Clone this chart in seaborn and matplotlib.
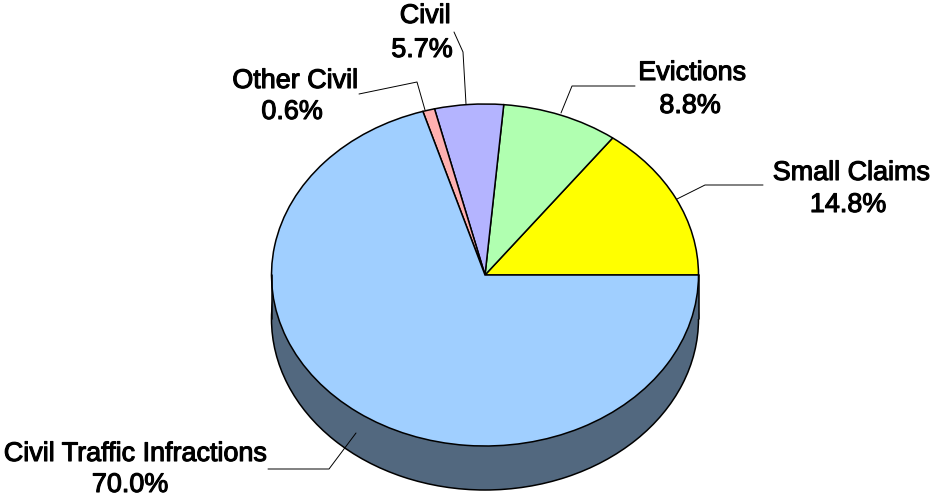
import matplotlib
matplotlib.use("Agg")
import matplotlib.pyplot as plt
from matplotlib.lines import Line2D
from matplotlib.transforms import Affine2D
import matplotlib.patheffects as pe
import seaborn as sns

categories = ["Small Claims", "Evictions", "Civil", "Other Civil", "Civil Traffic Infractions"]
# Percentages printed in the labels
values = [14.8, 8.8, 5.7, 0.6, 70.0]
# Slice shares as drawn in the picture (its Civil / Other Civil wedges differ a little from the printed figures)
drawn_shares = [14.8, 8.8, 5.2, 0.9, 70.3]
slice_colors = ["#FFFF00", "#B0FFB0", "#B4B4FF", "#FFB0B0", "#A0CFFF"]
side_color = "#52687F"

W, H = 930, 497
CX, CY, RX, RY, DEPTH = 485, 275, 213.5, 171, 44

sns.set_theme(style="white")
plt.rcParams["font.family"] = ["Liberation Sans", "DejaVu Sans"]

fig = plt.figure(figsize=(W / 100, H / 100), dpi=100, facecolor="white")
ax = fig.add_axes([0, 0, 1, 1])
palette = sns.color_palette(slice_colors)
edge = dict(edgecolor="black", linewidth=1.1)

# Side wall: lower ellipse plus the band joining it to the top face
d = DEPTH / RY
ax.pie([sum(values)], colors=[side_color], center=(0, -d), radius=1, wedgeprops=edge)
ax.fill_between([-1, 1], [-d, -d], [0, 0], color=side_color, linewidth=0)
ax.plot([-1, -1], [-d, 0], color="black", lw=1.1)
ax.plot([1, 1], [-d, 0], color="black", lw=1.1)
# Top face
ax.pie(drawn_shares, colors=palette, startangle=0, counterclock=True, center=(0, 0), radius=1,
       wedgeprops=edge)

ax.set_aspect("auto")
ax.set_xlim(-CX / RX, (W - CX) / RX)
ax.set_ylim(-(H - CY) / RY, CY / RY)
ax.axis("off")

# Pixel coordinate system (origin top-left) for labels and leader lines
px = Affine2D().scale(1 / W, -1 / H).translate(0, 1) + fig.transFigure

label_pos = [(851, 173), (692, 73), (425, 16), (295, 81), (135, 454)]
value_pos = [(848, 205), (690, 106), (422, 50), (292, 112), (130, 485)]
leaders = [
    [(763, 185), (705, 185), (677, 199)],
    [(635, 86), (572, 86), (561, 113)],
    [(454, 32), (463, 52), (466, 104)],
    [(359, 94), (417, 82), (425, 110)],
    [(268, 469), (329, 469), (356, 433)],
]
stroke = [pe.withStroke(linewidth=0.8, foreground="black")]
FS = 19.4

for name, val, lp, vp, path in zip(categories, values, label_pos, value_pos, leaders):
    fig.text(lp[0], lp[1], name, transform=px, ha="center", va="center", fontsize=FS,
             color="black", path_effects=stroke)
    fig.text(vp[0], vp[1], f"{val:.1f}%", transform=px, ha="center", va="center", fontsize=FS,
             color="black", path_effects=stroke)
    fig.add_artist(Line2D([p[0] for p in path], [p[1] for p in path], transform=px,
                          color="black", lw=0.7))

fig.savefig("out.png", dpi=100, facecolor="white")
